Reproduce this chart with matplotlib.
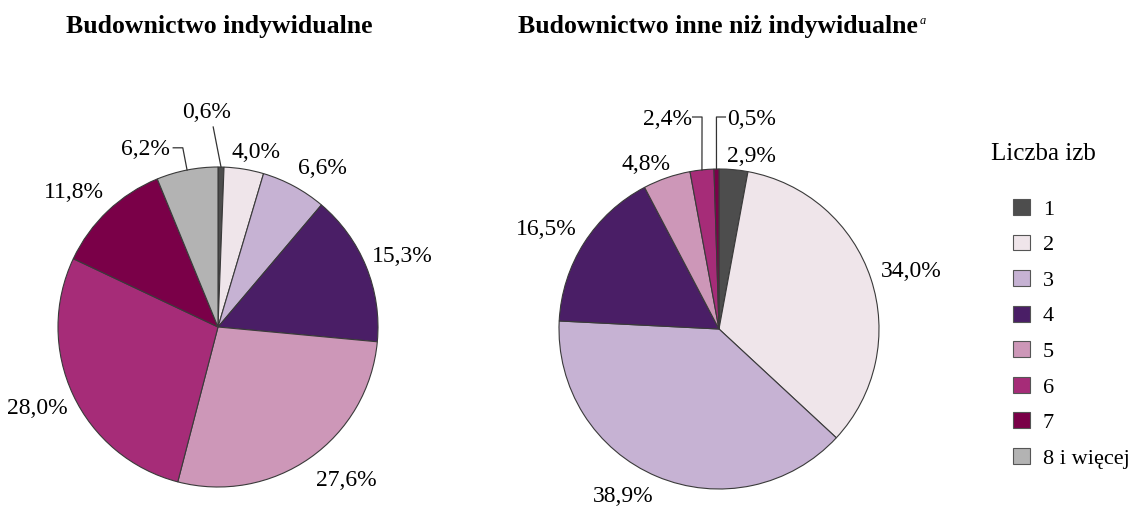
import matplotlib.pyplot as plt
from matplotlib.patches import Patch
import numpy as np

plt.rcParams['font.family'] = ['Liberation Serif', 'DejaVu Serif']

rooms = ['1', '2', '3', '4', '5', '6', '7', '8 i więcej']
colors = ['#4d4d4d', '#efe5ea', '#c6b2d3', '#4a1e66', '#cd97b8', '#a62c78', '#7a0048', '#b3b3b3']

indiv = [0.6, 4.0, 6.6, 15.3, 27.6, 28.0, 11.8, 6.2]
indiv_labels = ['0,6%', '4,0%', '6,6%', '15,3%', '27,6%', '28,0%', '11,8%', '6,2%']
other = [2.9, 34.0, 38.9, 16.5, 4.8, 2.4, 0.5, 0.0]
other_labels = ['2,9%', '34,0%', '38,9%', '16,5%', '4,8%', '2,4%', '0,5%', '']

# label placement (x, y, ha) in pie-radius units; None -> no label
indiv_pos = [(-0.07, 1.34, 'center'), (0.24, 1.09, 'center'), (0.65, 0.99, 'center'),
             (1.15, 0.44, 'center'), (0.80, -0.96, 'center'), (-1.13, -0.51, 'center'),
             (-0.90, 0.84, 'center'), (-0.30, 1.11, 'right')]
other_pos = [(0.20, 1.08, 'center'), (1.20, 0.36, 'center'), (-0.60, -1.05, 'center'),
             (-1.08, 0.62, 'center'), (-0.30, 1.03, 'right'), (-0.17, 1.31, 'right'),
             (0.05, 1.31, 'left'), None]
# leader lines: slice index -> elbow point
indiv_leaders = {0: [(-0.03, 1.25)], 7: [(-0.28, 1.12), (-0.22, 1.12)]}
other_leaders = {5: [(-0.165, 1.325), (-0.106, 1.325)], 6: [(0.04, 1.325), (-0.016, 1.325)]}

W, H = 1133, 507
R = 157
fig = plt.figure(figsize=(W / 100, H / 100), dpi=100)


def pie_axes(cx, cy):
    half = 200
    ax = fig.add_axes([(cx - half) / W, (H - cy - half) / H, 2 * half / W, 2 * half / H])
    lim = half / R
    ax.set_xlim(-lim, lim)
    ax.set_ylim(-lim, lim)
    ax.set_aspect('equal')
    ax.axis('off')
    return ax


def draw_pie(ax, values, labels, pos, leaders):
    vals = np.array(values)
    keep = vals > 0
    wedges, _ = ax.pie(vals[keep], colors=[c for c, k in zip(colors, keep) if k],
                       startangle=90, counterclock=False, radius=1,
                       wedgeprops=dict(edgecolor='#3a3a3a', linewidth=0.8))
    for w in wedges:
        w.set_clip_on(False)
    total = vals.sum()
    cum = np.cumsum(vals) - vals / 2
    for i, lab in enumerate(labels):
        if pos[i] is None or not lab:
            continue
        x, y, ha = pos[i]
        ax.text(x, y, lab, ha=ha, va='center', fontsize=17, clip_on=False)
        if i in leaders:
            ang = np.deg2rad(90 - cum[i] / total * 360)
            pts = leaders[i] + [(np.cos(ang), np.sin(ang))]
            xs, ys = zip(*pts)
            ax.plot(xs, ys, color='#333333', lw=0.9, clip_on=False)


ax1 = pie_axes(218, 327)
draw_pie(ax1, indiv, indiv_labels, indiv_pos, indiv_leaders)
ax2 = pie_axes(719, 329)
draw_pie(ax2, other, other_labels, other_pos, other_leaders)

fig.text(219 / W, 1 - 27 / H, 'Budownictwo indywidualne', ha='center', va='center',
         fontsize=18.5, fontweight='bold')
t2 = fig.text(718 / W, 1 - 27 / H, 'Budownictwo inne niż indywidualne', ha='center', va='center',
              fontsize=18.5, fontweight='bold')
plt.annotate('a', xy=(1, 1), xycoords=t2, xytext=(1.5, 0), textcoords='offset points',
             ha='left', va='top', fontsize=9, fontstyle='italic')

handles = [Patch(facecolor=c, edgecolor='#555555', linewidth=0.8) for c in colors]
fig.text(1043 / W, 1 - 154 / H, 'Liczba izb', ha='center', va='center', fontsize=18)
fig.legend(handles, rooms, loc='upper left',
           bbox_to_anchor=(993 / W, 1 - 179 / H), frameon=False, fontsize=16,
           handlelength=0.75, handleheight=0.72,
           handletextpad=0.6, labelspacing=0.67)

fig.savefig('out.png', dpi=100)
